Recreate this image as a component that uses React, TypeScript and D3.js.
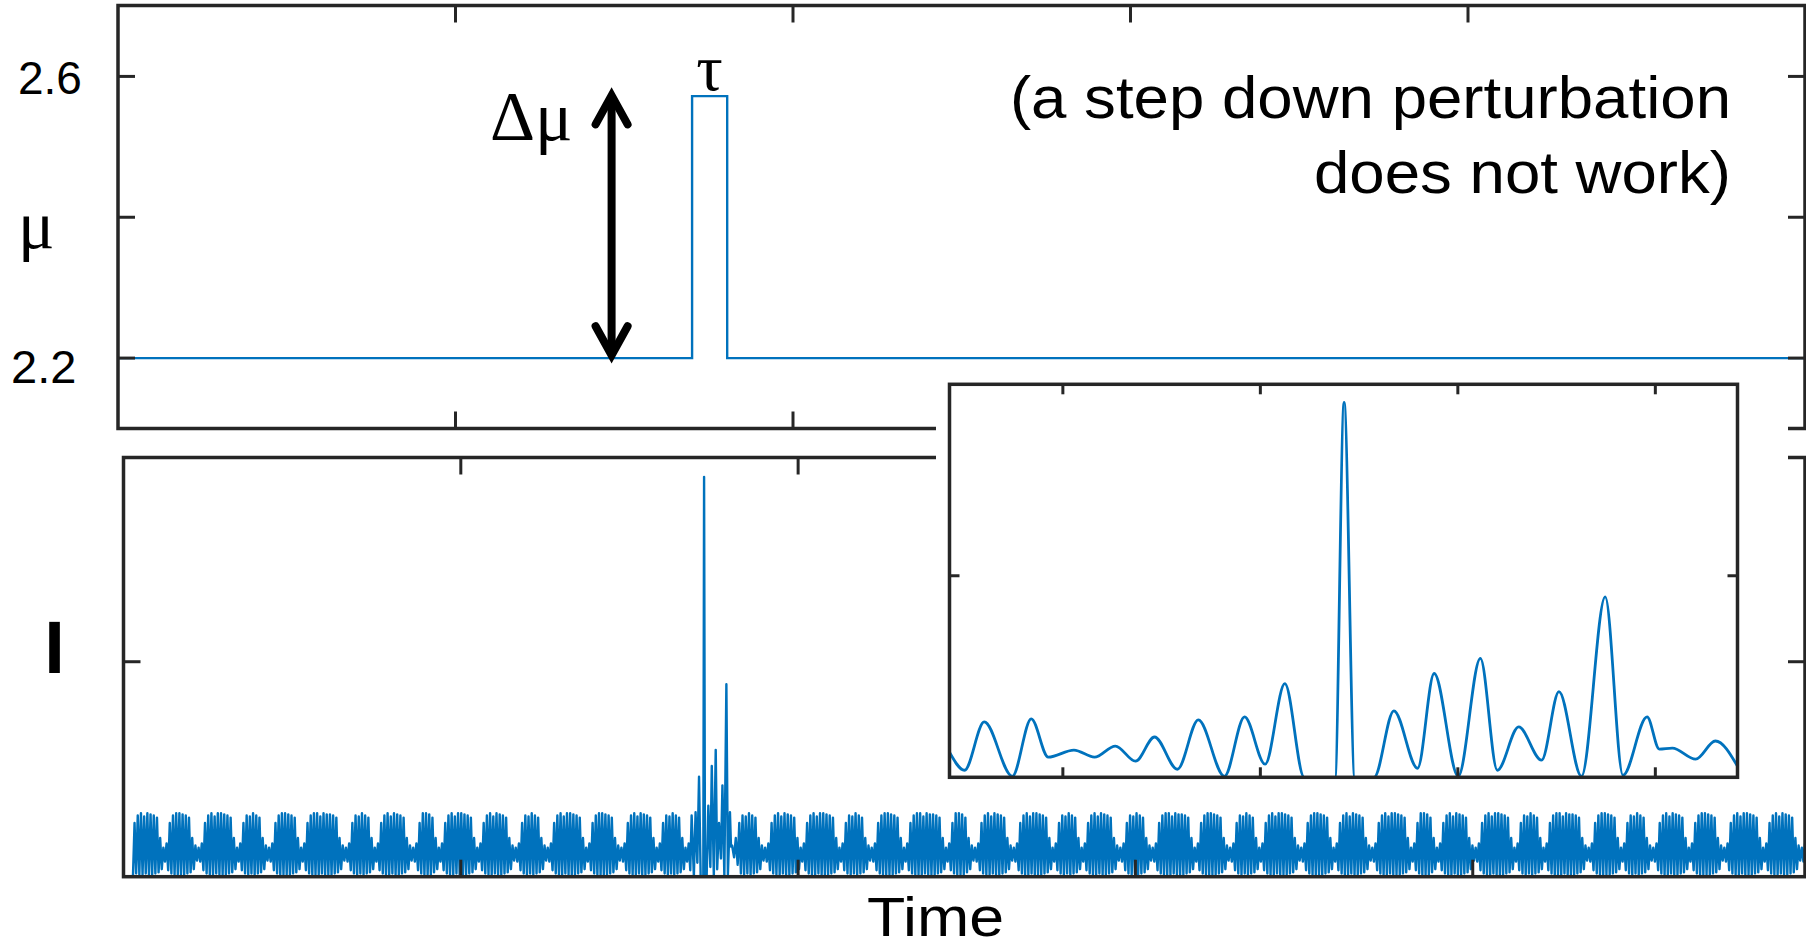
import React from 'react';
import * as d3 from 'd3';

const W = 1806;
const H = 948;

// Control parameter μ(t): baseline with a short rectangular step up
const muBase = 2.2;
const muStepValue = 2.572;
const muStep = [1.701, 1.805];
const muTicks = [2.2, 2.4, 2.6];
const muTickLabels = [
  { value: 2.6, text: '2.6', x: 18, dy: 18, size: 46 },
  { value: 2.2, text: '2.2', x: 11, dy: 25, size: 47 },
];
const timeTicks = [1, 2, 3, 4];
const intensityTicks = [2];
const insetTimeTicks = [1.65, 1.7, 1.75, 1.8];
const insetIntensityTicks = [2];

// Zoomed intensity trace around the perturbation, one point per extremum: [time, I]
const insetTrace: [number, number][] = [
  [1.6213, 0.25], [1.6251, 0.07], [1.6301, 0.55], [1.6372, 0.01], [1.642, 0.58],
  [1.6463, 0.2], [1.6528, 0.27], [1.658, 0.2], [1.6633, 0.31], [1.6684, 0.16],
  [1.6732, 0.4], [1.679, 0.08], [1.6843, 0.57], [1.6909, 0.01], [1.696, 0.6],
  [1.7012, 0.13], [1.7062, 0.93], [1.7111, 0.0], [1.7189, 0.0], [1.7212, 3.72],
  [1.7239, 0.0], [1.7288, 0.0], [1.7338, 0.66], [1.7398, 0.09], [1.744, 1.03],
  [1.7501, 0.01], [1.7557, 1.18], [1.76, 0.07], [1.7654, 0.5], [1.7712, 0.17],
  [1.7756, 0.85], [1.7813, 0.01], [1.7873, 1.79], [1.7918, 0.02], [1.7979, 0.6],
  [1.801, 0.28], [1.8043, 0.29], [1.8102, 0.18], [1.8152, 0.36], [1.8208, 0.11],
];
// the full-length trace joins the zoomed record from this time on
const spliceTime = 1.6843;

// Bursting regime of the free-running laser: [pulses in burst, pulses in quiet phase]
const cyclesBefore: [number, number][] = [
  [8, 3], [7, 4], [9, 3], [6, 4], [7, 3], [10, 4], [6, 3], [8, 4],
  [5, 3], [9, 3], [8, 4], [6, 4], [9, 3], [7, 4], [8, 3], [6, 3],
];
const cyclesAfter: [number, number][] = [
  [6, 4], [8, 3], [9, 3], [6, 4], [7, 3], [10, 3], [5, 4], [8, 4],
  [9, 3], [6, 3], [8, 4], [6, 4], [10, 3], [7, 4], [6, 3], [9, 4],
  [7, 3], [8, 4], [9, 3], [5, 3], [8, 4], [9, 3], [6, 3], [10, 4],
  [7, 3], [6, 4], [8, 3], [7, 4], [9, 3], [8, 4],
];
// Pulse heights across a burst and across a quiet phase
const burstPeaks = [0.5, 0.57, 0.59, 0.56, 0.59, 0.58, 0.57, 0.55];
const burstTroughs = [0.03, 0.02, 0.02, 0.03, 0.02, 0.02, 0.03, 0.04];
const quietPeaks = [0.36, 0.29, 0.27, 0.31];
const quietTroughs = [0.07, 0.15, 0.14, 0.06];
const traceStart = 0.028;
const traceEnd = 4.99;

const BLUE = '#0072BD';
const AXIS = '#262626';
const SANS = "'Liberation Sans', Arial, Helvetica, sans-serif";
const SERIF = "'Liberation Serif', 'Times New Roman', Times, serif";

function pick(profile: number[], i: number, n: number) {
  if (n <= 1) return profile[0];
  return profile[Math.round((i * (profile.length - 1)) / (n - 1))];
}

// Spread the listed cycles evenly over [t0, t1]; each pulse gives a peak and a trough
function cyclesToTrace(cycles: [number, number][], t0: number, t1: number): [number, number][] {
  const total = d3.sum(cycles, c => c[0] + c[1]);
  const step = (t1 - t0) / total;
  const pts: [number, number][] = [];
  let t = t0;
  for (const [nBurst, nQuiet] of cycles) {
    for (let i = 0; i < nBurst; i++) {
      pts.push([t + step / 2, pick(burstPeaks, i, nBurst)]);
      pts.push([t + step, pick(burstTroughs, i, nBurst)]);
      t += step;
    }
    for (let i = 0; i < nQuiet; i++) {
      pts.push([t + step / 2, pick(quietPeaks, i, nQuiet)]);
      pts.push([t + step, pick(quietTroughs, i, nQuiet)]);
      t += step;
    }
  }
  return pts;
}

function Stretched({ x, y, sx, anchor, size, weight, family, children }: {
  x: number; y: number; sx: number; anchor?: string; size: number; weight?: string; family: string; children: React.ReactNode;
}) {
  return (
    <text transform={`translate(${x},${y}) scale(${sx},1)`} textAnchor={anchor || 'start'}
      fontFamily={family} fontSize={size} fontWeight={weight || 'normal'} fill="#000">{children}</text>
  );
}

export default function App() {
  // Upper panel: μ
  const xTop = d3.scaleLinear().domain([0, 5]).range([118, 1805.5]);
  const yMu = d3.scaleLinear().domain([2.1, 2.7]).range([428.5, 6]);
  const topFrame = { x0: 118, x1: 1805, y0: 5.5, y1: 428.5 };

  // Lower panel: intensity
  const xBot = d3.scaleLinear().domain([0, 4.985]).range([123.5, 1805]);
  const yI = d3.scaleLinear().domain([0, 3.9]).range([876.7, 457.5]);
  const botFrame = { x0: 123.5, x1: 1805, y0: 457.5, y1: 876.7 };

  // Inset zoom
  const xIn = d3.scaleLinear().domain([1.6213, 1.8208]).range([949.5, 1737.5]);
  const yIn = d3.scaleLinear().domain([0, 3.9]).range([777.3, 384.3]);
  const inFrame = { x0: 949.5, x1: 1737.5, y0: 384.3, y1: 777.3 };

  const muData: [number, number][] = [
    [0, muBase], [muStep[0], muBase], [muStep[0], muStepValue],
    [muStep[1], muStepValue], [muStep[1], muBase], [5, muBase],
  ];
  const muLine = d3.line<[number, number]>().x(d => xTop(d[0])).y(d => yMu(d[1]));

  const insetEnd = insetTrace[insetTrace.length - 1][0];
  const mainTrace: [number, number][] = [
    [0, 0], [traceStart, 0],
    ...cyclesToTrace(cyclesBefore, traceStart, spliceTime - 0.004),
    ...insetTrace.filter(d => d[0] >= spliceTime),
    ...cyclesToTrace(cyclesAfter, insetEnd, traceEnd),
  ];
  const mainLine = d3.line<[number, number]>().x(d => xBot(d[0])).y(d => yI(d[1]));
  const insetLine = d3.line<[number, number]>()
    .x(d => xIn(d[0])).y(d => yIn(d[1])).curve(d3.curveMonotoneX);

  const tick = 17;
  const tickIn = 10;

  const frame = (f: { x0: number; x1: number; y0: number; y1: number }, w: number) => (
    <rect x={f.x0} y={f.y0} width={f.x1 - f.x0} height={f.y1 - f.y0}
      fill="none" stroke={AXIS} strokeWidth={w} />
  );

  // Double-headed arrow marking Δμ
  const arrowX = xTop(1.4625);
  const arrowTop = yMu(2.573);
  const arrowBot = yMu(2.204);
  const headW = 16;
  const headL = 29;

  return (
    <svg width={W} height={H} viewBox={`0 0 ${W} ${H}`}
      style={{ position: 'absolute', left: 0, top: 0, background: '#fff' }}>
      <defs>
        <clipPath id="clipTop">
          <rect x={topFrame.x0} y={topFrame.y0} width={topFrame.x1 - topFrame.x0 + 2} height={topFrame.y1 - topFrame.y0} />
        </clipPath>
        <clipPath id="clipBot">
          <rect x={botFrame.x0} y={botFrame.y0} width={botFrame.x1 - botFrame.x0} height={botFrame.y1 - botFrame.y0} />
        </clipPath>
        <clipPath id="clipIn">
          <rect x={inFrame.x0} y={inFrame.y0 - 2} width={inFrame.x1 - inFrame.x0} height={inFrame.y1 - inFrame.y0 + 2} />
        </clipPath>
      </defs>
      <rect x={0} y={0} width={W} height={H} fill="#fff" />

      {/* upper panel */}
      <g clipPath="url(#clipTop)">
        <path d={muLine(muData) || ''} fill="none" stroke={BLUE} strokeWidth={2.4} />
      </g>
      {frame(topFrame, 3.5)}
      {timeTicks.map(t => (
        <g key={`tt${t}`} stroke={AXIS} strokeWidth={3}>
          <line x1={xTop(t)} x2={xTop(t)} y1={topFrame.y0} y2={topFrame.y0 + tick} />
          <line x1={xTop(t)} x2={xTop(t)} y1={topFrame.y1} y2={topFrame.y1 - tick} />
        </g>
      ))}
      {muTicks.map(v => (
        <g key={`mt${v}`} stroke={AXIS} strokeWidth={3}>
          <line x1={topFrame.x0} x2={topFrame.x0 + tick} y1={yMu(v)} y2={yMu(v)} />
          <line x1={topFrame.x1} x2={topFrame.x1 - tick} y1={yMu(v)} y2={yMu(v)} />
        </g>
      ))}

      {/* lower panel */}
      <g clipPath="url(#clipBot)">
        <path d={mainLine(mainTrace) || ''} fill="none" stroke={BLUE} strokeWidth={2.4} strokeLinejoin="round" />
      </g>
      {frame(botFrame, 3.5)}
      {timeTicks.map(t => (
        <g key={`bt${t}`} stroke={AXIS} strokeWidth={3}>
          <line x1={xBot(t)} x2={xBot(t)} y1={botFrame.y0} y2={botFrame.y0 + tick} />
          <line x1={xBot(t)} x2={xBot(t)} y1={botFrame.y1} y2={botFrame.y1 - tick} />
        </g>
      ))}
      {intensityTicks.map(v => (
        <g key={`it${v}`} stroke={AXIS} strokeWidth={3}>
          <line x1={botFrame.x0} x2={botFrame.x0 + tick} y1={yI(v)} y2={yI(v)} />
          <line x1={botFrame.x1} x2={botFrame.x1 - tick} y1={yI(v)} y2={yI(v)} />
        </g>
      ))}

      {/* inset */}
      <rect x={936} y={366} width={852} height={436} fill="#fff" />
      <g clipPath="url(#clipIn)">
        <path d={insetLine(insetTrace) || ''} fill="none" stroke={BLUE} strokeWidth={2.8} strokeLinejoin="round" />
      </g>
      {frame(inFrame, 3.5)}
      {insetTimeTicks.map(t => (
        <g key={`nt${t}`} stroke={AXIS} strokeWidth={3}>
          <line x1={xIn(t)} x2={xIn(t)} y1={inFrame.y0} y2={inFrame.y0 + tickIn} />
          <line x1={xIn(t)} x2={xIn(t)} y1={inFrame.y1} y2={inFrame.y1 - tickIn} />
        </g>
      ))}
      {insetIntensityTicks.map(v => (
        <g key={`ni${v}`} stroke={AXIS} strokeWidth={3}>
          <line x1={inFrame.x0} x2={inFrame.x0 + tickIn} y1={yIn(v)} y2={yIn(v)} />
          <line x1={inFrame.x1} x2={inFrame.x1 - tickIn} y1={yIn(v)} y2={yIn(v)} />
        </g>
      ))}

      {/* labels */}
      {muTickLabels.map(l => (
        <text key={l.text} x={l.x} y={yMu(l.value) + l.dy} fontFamily={SANS} fontSize={l.size} fill="#000">{l.text}</text>
      ))}
      <text x={18} y={248} fontFamily={SERIF} fontSize={68} fill="#000">μ</text>
      <text x={490} y={140} fontFamily={SERIF} fontSize={70} fill="#000">Δμ</text>
      <text x={xTop((muStep[0] + muStep[1]) / 2)} y={90} textAnchor="middle" fontFamily={SERIF} fontSize={66} fill="#000">τ</text>
      <Stretched x={1731} y={118} sx={1.06} anchor="end" size={60} family={SANS}>(a step down perturbation</Stretched>
      <Stretched x={1731} y={193} sx={1.06} anchor="end" size={60} family={SANS}>does not work)</Stretched>
      <text x={54.5} y={673} textAnchor="middle" fontFamily={SANS} fontWeight="bold" fontSize={74} fill="#000">I</text>
      <Stretched x={935.5} y={936} sx={1.12} anchor="middle" size={56} family={SANS}>Time</Stretched>

      {/* Δμ arrow */}
      <g stroke="#000" strokeWidth={8} fill="none" strokeLinecap="round" strokeLinejoin="miter" strokeMiterlimit={10}>
        <line x1={arrowX} x2={arrowX} y1={arrowTop + 4} y2={arrowBot - 4} />
        <polyline points={`${arrowX - headW},${arrowTop + headL} ${arrowX},${arrowTop} ${arrowX + headW},${arrowTop + headL}`} />
        <polyline points={`${arrowX - headW},${arrowBot - headL} ${arrowX},${arrowBot} ${arrowX + headW},${arrowBot - headL}`} />
      </g>
    </svg>
  );
}
